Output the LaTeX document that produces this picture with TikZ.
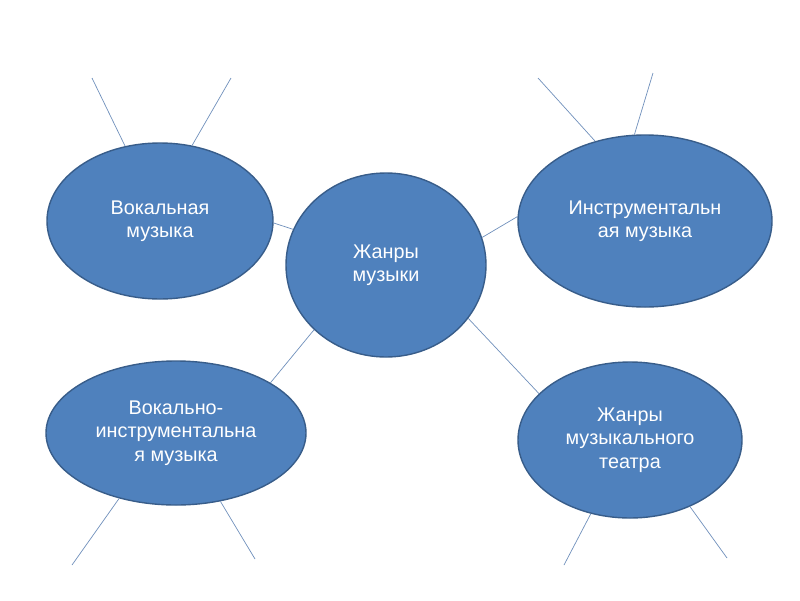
\documentclass[tikz,border=0pt]{standalone}
\usepackage{fontspec}
\setmainfont{Liberation Sans}
\usetikzlibrary{shapes.geometric}
\definecolor{bfill}{HTML}{4F81BD}
\definecolor{bdraw}{HTML}{385D8A}
\definecolor{lnk}{HTML}{7090BC}
\tikzset{
  bubble/.style={ellipse, fill=bfill, draw=bdraw, line width=1.4pt, inner sep=0pt,
    text=white, align=center, font=\fontsize{19.8}{23.5}\selectfont},
  link/.style={draw=lnk, line width=0.7pt}
}
\begin{document}
\begin{tikzpicture}[x=1pt,y=-1pt]
\fill[white] (0,0) rectangle (800,600);
\useasboundingbox (0,0) rectangle (800,600);

\node[bubble, minimum width=226pt, minimum height=156pt] (voc) at (160,221) {\rule{0pt}{0pt}Вокальная\\музыка};
\node[bubble, minimum width=254pt, minimum height=172pt] (ins) at (645,221) {Инструментальн\\ая музыка};
\node[bubble, minimum width=200pt, minimum height=184pt] (ctr) at (386,265) {Жанры\\музыки};
\node[bubble, minimum width=260pt, minimum height=144pt] (vi) at (176,433) {Вокально-\\инструментальна\\я музыка};
\node[bubble, minimum width=224pt, minimum height=156pt] (thr) at (630,440) {Жанры\\музыкального\\театра};

\coordinate (v1) at (92,78);
\coordinate (v2) at (231,78);
\coordinate (i1) at (538,78);
\coordinate (i2) at (653,73);
\coordinate (w1) at (72,565);
\coordinate (w2) at (255,559);
\coordinate (t1) at (564,565);
\coordinate (t2) at (727,558);

\draw[link] (voc.115.4) -- (v1);
\draw[link] (voc.67) -- (v2);
\draw[link] (voc.-1) -- (ctr.159.4);
\draw[link] (ctr.16.6) -- (ins.178.6);
\draw[link] (ins.122.8) -- (i1);
\draw[link] (ins.97.9) -- (i2);
\draw[link] (ctr.222.6) -- (vi.28.5);
\draw[link] (vi.229.5) -- (w1);
\draw[link] (vi.-57.8) -- (w2);
\draw[link] (ctr.-33.2) -- (thr.153.7);
\draw[link] (thr.-118.7) -- (t1);
\draw[link] (thr.-48.2) -- (t2);
\end{tikzpicture}
\end{document}
